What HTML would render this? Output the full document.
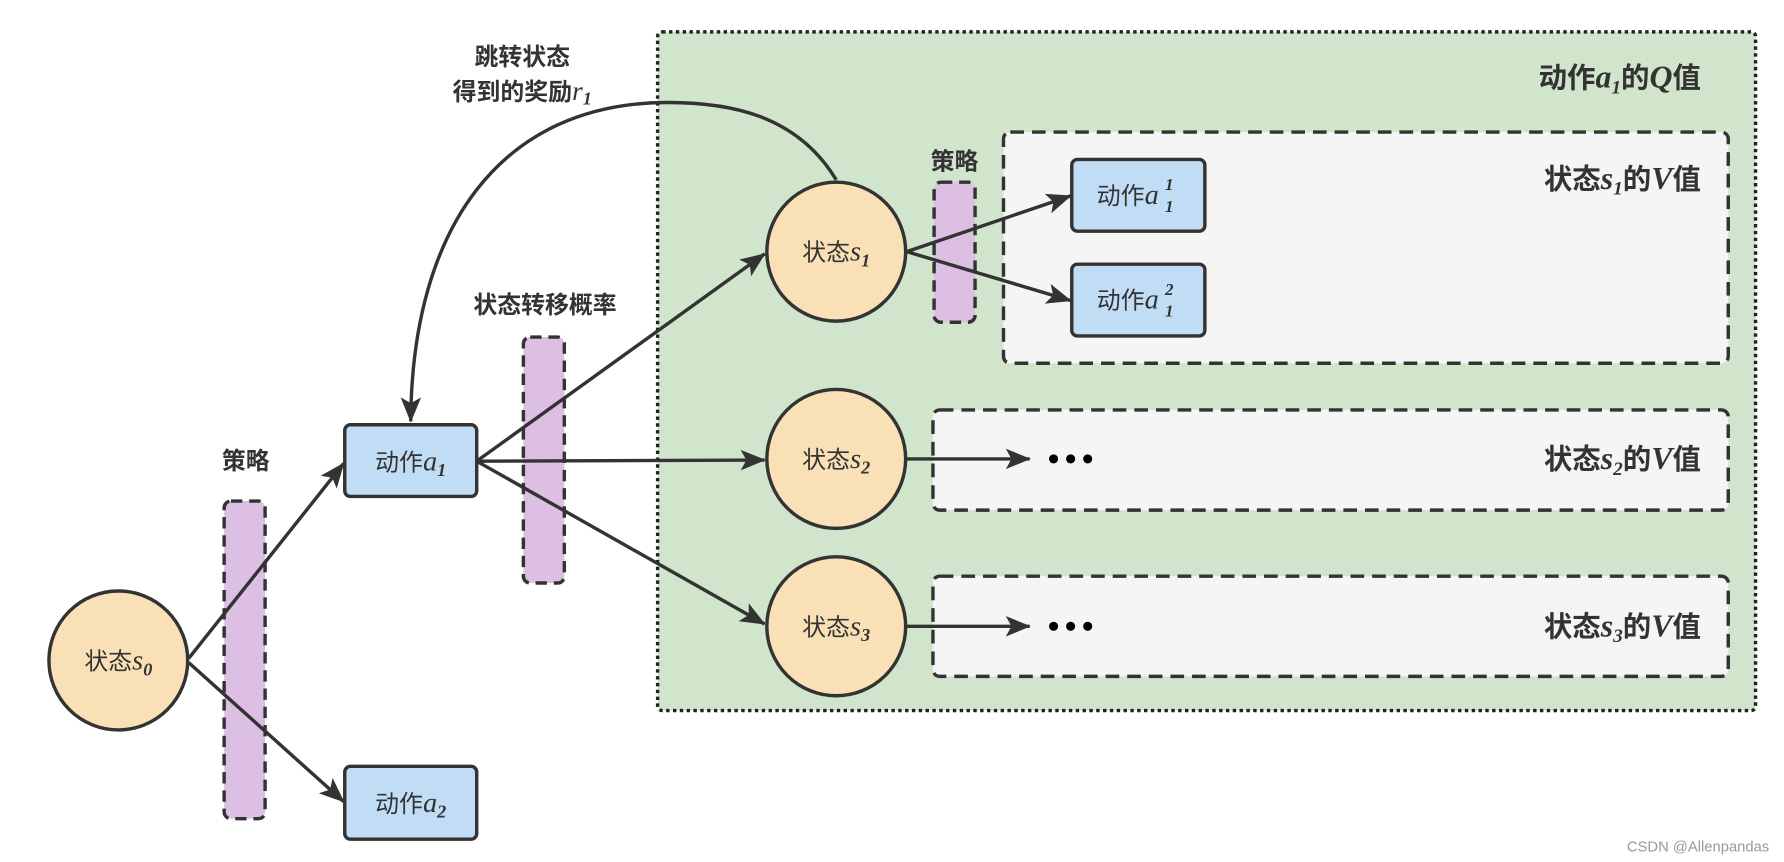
<!DOCTYPE html>
<html><head><meta charset="utf-8"><style>
html,body{margin:0;padding:0;background:#fff;}
svg{display:block}
text{font-family:"Liberation Sans","Noto Sans CJK SC",sans-serif;fill:#333;}
.m{font-family:"Liberation Serif",serif;font-style:italic;}
.b{font-weight:bold;}
</style></head><body>
<svg width="1784" height="862" viewBox="0 0 1568 757" preserveAspectRatio="none" xmlns="http://www.w3.org/2000/svg">
<defs>
<marker id="ar2" markerWidth="22" markerHeight="18" refX="21" refY="9" orient="auto" markerUnits="userSpaceOnUse">
<path d="M0,0 L22,9 L0,18 L5,9 Z" fill="#333"/>
</marker>
</defs>
<rect x="578" y="28" width="965" height="596" rx="4" fill="#d0e5cb" stroke="#222" stroke-width="3" stroke-dasharray="3,3"/>
<text x="1495" y="77" text-anchor="end" font-size="25" class="b">动作<tspan class="m" font-size="28">a</tspan><tspan class="m" font-size="17" dy="5">1</tspan><tspan dy="-5">的</tspan><tspan class="m" font-size="28">Q</tspan>值</text>
<rect x="882" y="116" width="637" height="203" rx="6" fill="#f5f5f5" stroke="#333" stroke-width="3" stroke-dasharray="12,7"/>
<text x="1495" y="166" text-anchor="end" font-size="25" class="b">状态<tspan class="m" font-size="28">s</tspan><tspan class="m" font-size="17" dy="5">1</tspan><tspan dy="-5">的</tspan><tspan class="m" font-size="28">V</tspan>值</text>
<rect x="820" y="360" width="699" height="88" rx="6" fill="#f5f5f5" stroke="#333" stroke-width="3" stroke-dasharray="12,7"/>
<text x="1495" y="412" text-anchor="end" font-size="25" class="b">状态<tspan class="m" font-size="28">s</tspan><tspan class="m" font-size="17" dy="5">2</tspan><tspan dy="-5">的</tspan><tspan class="m" font-size="28">V</tspan>值</text>
<rect x="820" y="506" width="699" height="88" rx="6" fill="#f5f5f5" stroke="#333" stroke-width="3" stroke-dasharray="12,7"/>
<text x="1495" y="559" text-anchor="end" font-size="25" class="b">状态<tspan class="m" font-size="28">s</tspan><tspan class="m" font-size="17" dy="5">3</tspan><tspan dy="-5">的</tspan><tspan class="m" font-size="28">V</tspan>值</text>
<rect x="197" y="440" width="36" height="279" rx="6" fill="#dcbfe3" stroke="#333" stroke-width="3" stroke-dasharray="10,6"/>
<rect x="460" y="296" width="36" height="216" rx="6" fill="#dcbfe3" stroke="#333" stroke-width="3" stroke-dasharray="10,6"/>
<rect x="821" y="160" width="36" height="123" rx="6" fill="#dcbfe3" stroke="#333" stroke-width="3" stroke-dasharray="10,6"/>
<text x="216" y="412" text-anchor="middle" font-size="21" class="b">策略</text>
<text x="479" y="275" text-anchor="middle" font-size="21" class="b">状态转移概率</text>
<text x="839" y="149" text-anchor="middle" font-size="21" class="b">策略</text>
<text x="459" y="57" text-anchor="middle" font-size="21" class="b">跳转状态</text>
<text x="459" y="88" text-anchor="middle" font-size="21" class="b">得到的奖励<tspan class="m" font-weight="normal" font-size="24">r</tspan><tspan class="m" font-size="16" dy="4">1</tspan></text>
<g stroke="#333" stroke-width="3" fill="none">
<path d="M735,158 C700,100 640,90 587,90 C440,90 362,200 361,370" marker-end="url(#ar2)"/>
<line x1="166" y1="578" x2="302" y2="407" marker-end="url(#ar2)"/>
<line x1="166" y1="582" x2="302" y2="704" marker-end="url(#ar2)"/>
<line x1="419" y1="405" x2="672" y2="223" marker-end="url(#ar2)"/>
<line x1="419" y1="405" x2="672" y2="404" marker-end="url(#ar2)"/>
<line x1="419" y1="405" x2="672" y2="548" marker-end="url(#ar2)"/>
<line x1="797" y1="221" x2="941" y2="172" marker-end="url(#ar2)"/>
<line x1="797" y1="221" x2="941" y2="264" marker-end="url(#ar2)"/>
<line x1="797" y1="403" x2="905" y2="403" marker-end="url(#ar2)"/>
<line x1="797" y1="550" x2="905" y2="550" marker-end="url(#ar2)"/>
</g>
<g fill="#000"><circle cx="926" cy="403" r="4"/><circle cx="941" cy="403" r="4"/><circle cx="956" cy="403" r="4"/>
<circle cx="926" cy="550" r="4"/><circle cx="941" cy="550" r="4"/><circle cx="956" cy="550" r="4"/></g>
<g fill="#f9e0b6" stroke="#333" stroke-width="3">
<circle cx="104" cy="580" r="61"/>
<circle cx="735" cy="221" r="61"/>
<circle cx="735" cy="403" r="61"/>
<circle cx="735" cy="550" r="61"/>
</g>
<text x="104" y="588" text-anchor="middle" font-size="21">状态<tspan class="m" font-size="25">s</tspan><tspan class="m b" font-size="16" dy="5">0</tspan></text>
<text x="735" y="229" text-anchor="middle" font-size="21">状态<tspan class="m" font-size="25">s</tspan><tspan class="m b" font-size="16" dy="5">1</tspan></text>
<text x="735" y="411" text-anchor="middle" font-size="21">状态<tspan class="m" font-size="25">s</tspan><tspan class="m b" font-size="16" dy="5">2</tspan></text>
<text x="735" y="558" text-anchor="middle" font-size="21">状态<tspan class="m" font-size="25">s</tspan><tspan class="m b" font-size="16" dy="5">3</tspan></text>
<g fill="#c1ddf6" stroke="#333" stroke-width="3">
<rect x="303" y="373" width="116" height="63" rx="5"/>
<rect x="303" y="673" width="116" height="64" rx="5"/>
<rect x="942" y="140" width="117" height="63" rx="5"/>
<rect x="942" y="232" width="117" height="63" rx="5"/>
</g>
<text x="361" y="413" text-anchor="middle" font-size="21">动作<tspan class="m" font-size="25">a</tspan><tspan class="m b" font-size="16" dy="5">1</tspan></text>
<text x="361" y="713" text-anchor="middle" font-size="21">动作<tspan class="m" font-size="25">a</tspan><tspan class="m b" font-size="16" dy="5">2</tspan></text>
<text x="964" y="179" font-size="21">动作<tspan class="m" font-size="25">a</tspan></text>
<text x="1024" y="167" font-size="15" class="m b">1</text><text x="1024" y="186" font-size="15" class="m b">1</text>
<text x="964" y="271" font-size="21">动作<tspan class="m" font-size="25">a</tspan></text>
<text x="1024" y="259" font-size="15" class="m b">2</text><text x="1024" y="278" font-size="15" class="m b">1</text>
<text x="1555" y="748" text-anchor="end" font-size="13" style="fill:#999">CSDN @Allenpandas</text>
</svg>
</body></html>
